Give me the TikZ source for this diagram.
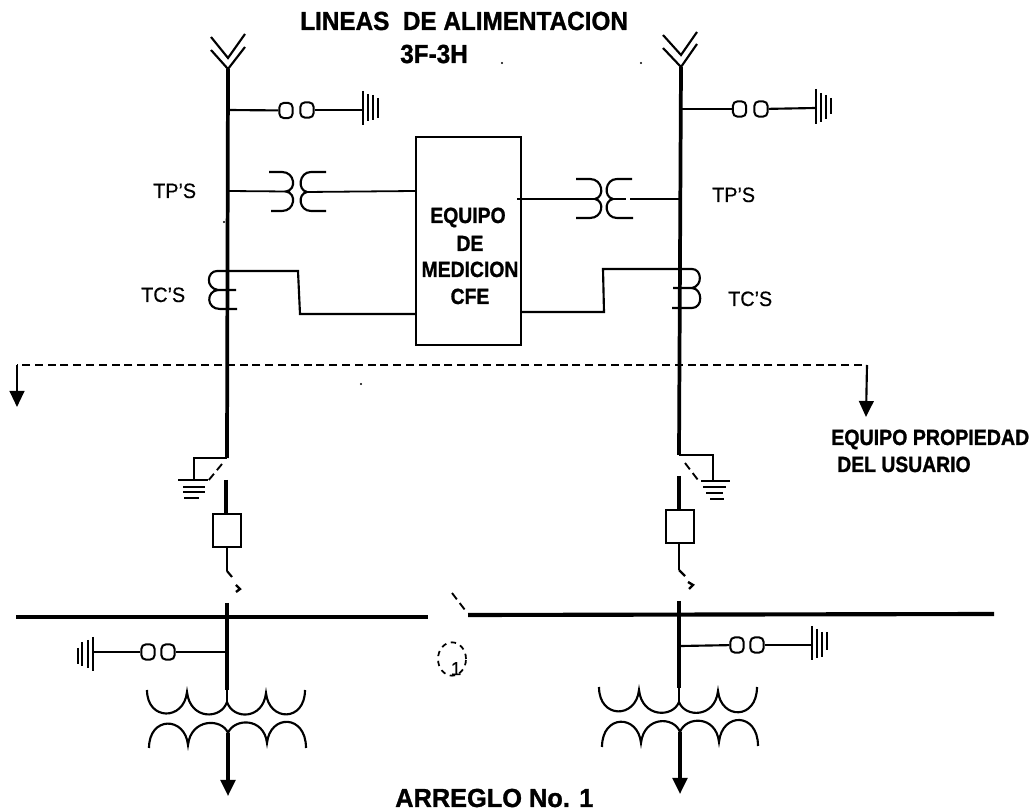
\documentclass[tikz,border=0pt]{standalone}
\usepackage{fontspec}
\setmainfont{Liberation Sans}[BoldFeatures={FakeBold=1.2}]
\newfontfamily\lblfont{Liberation Sans}[FakeBold=0.5]
\usetikzlibrary{arrows.meta,shapes.geometric}
\tikzset{
  x=0.75pt,y=-0.75pt,
  mainline/.style={line width=2.8pt},
  wire/.style={line width=1.6pt},
  thinwire/.style={line width=1.35pt},
  busbar/.style={line width=3.1pt},
  bigarrow/.style={-{Triangle[length=12pt,width=11pt]}},
  dashwire/.style={line width=1.5pt,dash pattern=on 6pt off 3.6pt},
  swdash/.style={line width=1.4pt,dash pattern=on 6pt off 3.5pt},
  fuse/.style={draw,line width=1.5pt,rounded corners=3.5pt,minimum width=10pt,minimum height=11.5pt,inner sep=0pt},
  box/.style={draw,line width=1.4pt,inner sep=0pt},
  lbl/.style={anchor=base west,inner sep=0pt,font=\lblfont\fontsize{15.6pt}{15.6pt}\selectfont},
  blbl/.style={anchor=base west,inner sep=0pt,font=\fontsize{16.5pt}{16.5pt}\selectfont\bfseries},
  ctr/.style={anchor=base,inner sep=0pt,font=\fontsize{16.5pt}{16.5pt}\selectfont\bfseries},
  title/.style={anchor=base west,inner sep=0pt,font=\fontsize{19.6pt}{19.6pt}\selectfont\bfseries},
  speck/.style={fill,circle,inner sep=0pt,minimum size=1.8pt}
}
\newcommand{\nar}[1]{\scalebox{.88}[1]{#1}}
\newcommand{\narl}[1]{\scalebox{.95}[1]{#1}}
\newcommand{\nart}[1]{\scalebox{.93}[1]{#1}}
\begin{document}
\begin{tikzpicture}
\useasboundingbox[fill=white] (0,0) rectangle (1033,812);

% ---------- titles
\node[title] (t1) at (300,30) {\nart{LINEAS\ \ DE ALIMENTACION}};
\node[title] (t2) at (400,63) {\nart{3F-3H}};
\node[title] (t3) at (395,807) {\scalebox{.97}[1]{ARREGLO No. 1}};
\node[speck] (s1) at (502,63) {};
\node[speck] (s2) at (641,63) {};
\node[speck] (s3) at (224,222) {};
\node[speck] (s4) at (361,384) {};

% ---------- metering box
\node[box,minimum width=78.75pt,minimum height=156pt] (cfe) at (468.5,241) {};
\node[ctr] (c1) at (468,223) {\nar{EQUIPO}};
\node[ctr] (c2) at (470,251) {\nar{DE}};
\node[ctr] (c3) at (470,277) {\nar{MEDICION}};
\node[ctr] (c4) at (470,304) {\nar{CFE}};

% ---------- left feeder
\coordinate (LA) at (228,69);
\coordinate (LB) at (227,458);
\draw[mainline] (LA) -- (LB);
\draw[wire] (211,37) -- (228,58) -- (245,34);
\draw[wire] (211,50) -- (LA) -- (245,47);
% surge arrester top left
\coordinate (LJ1) at (228,110);
\node[fuse] (LF1) at (286,110.5) {};
\node[fuse] (LF2) at (307,110) {};
\coordinate (LG1) at (363,110);
\draw[wire] (LJ1) -- (LF1);
\draw[wire] (LF2) -- (LG1);
\draw[wire] (363,91) -- (363,125);
\draw[wire] (368,94) -- (368,121);
\draw[wire] (373,95) -- (373,120);
\draw[wire] (378,98) -- (378,118);
% TP left
\coordinate (LJ2) at (228,191);
\draw[thinwire] (LJ2) -- (286,191.5);
\draw[wire] (269,172) -- (282,172) .. controls (295,172) and (297,190) .. (286,191.5) .. controls (297,193) and (295,211) .. (282,211) -- (271,211);
\draw[wire] (326,172) -- (311,172) .. controls (299,172) and (297,190) .. (307,192) .. controls (297,194) and (299,211) .. (311,211) -- (326,211);
\draw[thinwire] (307,192) -- (cfe.west |- 0,191);
% TC left
\draw[wire] (217,271) -- (298,271) -- (300,314) -- (cfe.west |- 0,314);
\draw[wire] (217,271) .. controls (207,271) and (205,288) .. (218,290) -- (236,290);
\draw[wire] (218,290) .. controls (206,291) and (206,309) .. (220,309) -- (237,309);
% dashed boundary
\draw[dashwire] (862,365) -- (17,365);
\draw[wire,bigarrow] (17,365) -- (17,407);
\draw[wire,bigarrow] (867,365) -- (866,417);
% left ground switch
\coordinate (LGA) at (194,458);
\coordinate (LGB) at (194,480);
\draw[wire] (LB) -- (LGA) -- (LGB);
\draw[wire] (178,480) -- (208,480);
\draw[wire] (183,487) -- (205,487);
\draw[wire] (183,492) -- (205,492);
\draw[wire] (184,498) -- (199,498);
\draw[swdash] (222,464) -- (208,481);
% left breaker
\node[box,line width=1.6pt,minimum width=21pt,minimum height=24.75pt] (LBK) at (227,530.5) {};
\coordinate (LC1) at (226,480);
\draw[mainline,line width=2.4pt] (LC1) -- (LBK.north -| LC1);
\coordinate (LC2) at (227,571);
\draw[wire,line width=2pt] (LBK.south) -- (LC2);
\draw[wire] (LC2) -- (232,577);
\draw[wire,line width=1.8pt] (236,585) -- (240,589) -- (236,592);
% left bus
\coordinate (BL1) at (16,617);
\coordinate (BL2) at (428,617);
\draw[busbar] (BL1) -- (BL2);
\coordinate (LD1) at (227,603);
\coordinate (LD2) at (227,690);
\draw[mainline] (LD1) -- (LD2);
% lower surge left
\coordinate (LJ3) at (226,652);
\node[fuse] (LF3) at (168,652) {};
\node[fuse] (LF4) at (148,652) {};
\coordinate (LG3) at (93,652);
\draw[thinwire] (LJ3) -- (LF3);
\draw[wire] (LF4) -- (LG3);
\draw[wire] (93,637) -- (93,671);
\draw[wire] (88,640) -- (88,668);
\draw[wire] (82,642) -- (82,666);
\draw[wire] (78,648) -- (78,664);
% transformer left
\draw[wire] (147,690) .. controls (147,721) and (184,721) .. (187,692) .. controls (190,720) and (221,720) .. (227,702) .. controls (233,720) and (263,720) .. (266,693) .. controls (269,722) and (305,722) .. (305,690);
\draw[wire] (227,690) -- (227,702);
\draw[wire] (149,748) .. controls (149,716) and (185,716) .. (188,745) .. controls (191,718) and (222,718) .. (228,733) .. controls (234,718) and (264,717) .. (267,743) .. controls (270,714) and (306,714) .. (306,748);
\coordinate (LT) at (228,733);
\coordinate (LO) at (228,796);
\draw[wire,line width=2.4pt,bigarrow] (LT) -- (LO);

% ---------- right feeder
\coordinate (RA) at (681,67);
\coordinate (RB) at (679,455);
\draw[mainline] (RA) -- (RB);
\draw[wire] (663,35) -- (681,55) -- (697,32);
\draw[wire] (663,48) -- (RA) -- (697,44);
% surge top right
\coordinate (RJ1) at (681,109);
\node[fuse] (RF1) at (739.5,109) {};
\node[fuse] (RF2) at (761,109) {};
\coordinate (RG1) at (816,108);
\draw[wire] (RJ1) -- (RF1);
\draw[wire] (RF2) -- (RG1);
\draw[wire] (816,89) -- (816,124);
\draw[wire] (821,93) -- (821,122);
\draw[wire] (826,95) -- (826,119);
\draw[wire] (831,98) -- (831,114);
% TP right
\coordinate (RJ2) at (680,199);
\draw[wire] (RJ2) -- (630,199);
\draw[wire] (517,199) -- (595,199);
\draw[wire] (576,179) -- (590,179) .. controls (603,179) and (605,197) .. (595,199) .. controls (605,201) and (603,218) .. (590,218) -- (576,218);
\draw[wire] (632,179) -- (617,179) .. controls (605,179) and (603,197) .. (613,199) .. controls (603,201) and (605,218) .. (617,218) -- (633,218);
\draw[wire] (613,199) -- (626,199);
% TC right
\draw[wire] (cfe.east |- 0,312) -- (604,312) -- (603,269) -- (692,269);
\draw[wire] (692,269) .. controls (702,269) and (703,286) .. (692,288) -- (673,288);
\draw[wire] (692,288) .. controls (703,289) and (703,308) .. (692,308) -- (672,308);
% right ground switch
\coordinate (RGA) at (713,455);
\coordinate (RGB) at (713,481);
\draw[wire] (RB) -- (RGA) -- (RGB);
\draw[wire] (701,481) -- (730,481);
\draw[wire] (703,487) -- (726,487);
\draw[wire] (706,493) -- (723,493);
\draw[wire] (710,499) -- (724,499);
\draw[swdash] (685,463) -- (698,480);
% right breaker
\node[box,line width=1.6pt,minimum width=21pt,minimum height=25pt] (RBK) at (680,526.5) {};
\coordinate (RC1) at (679,476);
\draw[mainline,line width=2.4pt] (RC1) -- (RBK.north -| RC1);
\coordinate (RC2) at (679,570);
\draw[wire,line width=2pt] (RBK.south -| RC2) -- (RC2);
\draw[wire] (RC2) -- (685,576);
\draw[wire,line width=1.8pt] (688,582) -- (693,585) -- (689,589);
% right bus
\coordinate (BR1) at (468,615);
\coordinate (BR2) at (994,614);
\draw[busbar] (BR1) -- (BR2);
\draw[swdash] (452,593) -- (465,610);
\coordinate (RD1) at (679,601);
\coordinate (RD2) at (679,688);
\draw[mainline] (RD1) -- (RD2);
% lower surge right
\coordinate (RJ3) at (681,646);
\node[fuse] (RF3) at (737,645) {};
\node[fuse] (RF4) at (757,645) {};
\coordinate (RG3) at (812,645);
\draw[wire] (RJ3) -- (RF3);
\draw[wire] (RF4) -- (RG3);
\draw[wire] (812,626) -- (812,660);
\draw[wire] (817,629) -- (817,658);
\draw[wire] (822,632) -- (822,657);
\draw[wire] (827,632) -- (827,650);
% transformer right
\draw[wire] (599,687) .. controls (599,719) and (636,719) .. (639,690) .. controls (642,718) and (673,718) .. (679,702) .. controls (685,718) and (715,718) .. (718,691) .. controls (721,720) and (757,720) .. (757,687);
\draw[wire] (679,688) -- (679,702);
\draw[wire] (602,747) .. controls (602,714) and (638,714) .. (641,743) .. controls (644,716) and (674,716) .. (680,732) .. controls (686,716) and (716,715) .. (719,742) .. controls (722,712) and (758,712) .. (758,746);
\coordinate (RT) at (680,732);
\coordinate (RO) at (680,794);
\draw[wire,line width=2.4pt,bigarrow] (RT) -- (RO);

% ---------- circled mark
\node[draw,ellipse,line width=1.3pt,dash pattern=on 4pt off 3.5pt,minimum width=21pt,minimum height=25pt,inner sep=0pt] (mk) at (452,659) {};
\node[anchor=base,inner sep=0pt,font=\lblfont\fontsize{14pt}{14pt}\selectfont] (mk1) at (456,675) {1};

% ---------- labels
\node[lbl] (l1) at (153,198) {\narl{TP’S}};
\node[lbl] (l2) at (712,202) {\narl{TP’S}};
\node[lbl] (l3) at (141,302) {\narl{TC’S}};
\node[lbl] (l4) at (728,306) {\narl{TC’S}};
\node[blbl] (l5) at (831,445) {\scalebox{.89}[1]{EQUIPO PROPIEDAD}};
\node[blbl] (l6) at (837,472) {\nar{DEL USUARIO}};
\end{tikzpicture}
\end{document}
